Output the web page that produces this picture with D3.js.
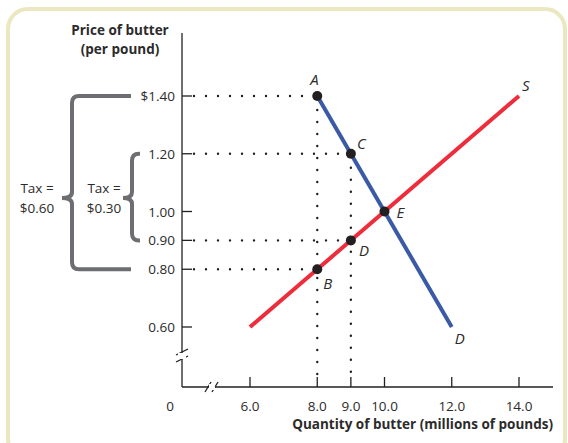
<!DOCTYPE html>
<html><head><meta charset="utf-8">
<script src="https://cdn.jsdelivr.net/npm/d3@7"></script>
<style>body{margin:0;background:#fff}svg{display:block}text{font-family:"Open Sans","Noto Sans",sans-serif}</style>
</head><body><svg id="c" width="568" height="443"></svg>
<script>
const xTicks = [6, 8, 9, 10, 12, 14];
const xTickLabels = ["6.0", "8.0", "9.0", "10.0", "12.0", "14.0"];
const yTicks = [1.40, 1.20, 1.00, 0.90, 0.80, 0.60];
const yTickLabels = ["$1.40", "1.20", "1.00", "0.90", "0.80", "0.60"];
const demandQ = [8, 12];
const demandP = [1.40, 0.60];
const supplyQ = [6, 14];
const supplyP = [0.60, 1.40];
const pointNames = ["A", "C", "E", "D", "B"];
const pointQ = [8, 9, 10, 9, 8];
const pointP = [1.40, 1.20, 1.00, 0.90, 0.80];
const dottedH = ["A", "C", "D", "B"];
const dottedV = ["A", "C"];
const braceTop = [1.40, 1.20];
const braceBottom = [0.80, 0.90];
const braceText = [["Tax =", "$0.60"], ["Tax =", "$0.30"]];

const svg = d3.select("#c");
const ax0 = 182, ay0 = 387, axTop = 33, axRight = 553;
const x = d3.scaleLinear().domain([6, 14]).range([250, 519]);
const y = d3.scaleLinear().domain([0.6, 1.4]).range([327, 96]);
const gray = "#6d6e71", txt = "#2b2b2b", red = "#ee2d3c", blue = "#3a5aa6";
const fs = 13.5;

// frame
svg.append("rect").attr("x", 8).attr("y", 9).attr("width", 557).attr("height", 450)
  .attr("rx", 20).attr("fill", "none").attr("stroke", "#ebe7c0").attr("stroke-width", 4);

// axes
const ax = svg.append("g").attr("stroke", "#231f20").attr("stroke-width", 1.3).attr("fill", "none");
ax.append("line").attr("x1", ax0).attr("x2", ax0).attr("y1", axTop).attr("y2", ay0);
ax.append("line").attr("x1", ax0).attr("x2", axRight).attr("y1", ay0).attr("y2", ay0);
// breaks
svg.append("rect").attr("x", ax0 - 4).attr("y", 353).attr("width", 8).attr("height", 6).attr("fill", "#fff");
[352, 359].forEach(yy => ax.append("line").attr("x1", ax0 - 6).attr("x2", ax0 + 6).attr("y1", yy + 3).attr("y2", yy - 3));
svg.append("rect").attr("x", 209).attr("y", ay0 - 3).attr("width", 6).attr("height", 6).attr("fill", "#fff");
[208, 215].forEach(xx => ax.append("line").attr("x1", xx - 3).attr("x2", xx + 3).attr("y1", ay0 + 5).attr("y2", ay0 - 5));

// ticks
xTicks.forEach((t, i) => {
  ax.append("line").attr("x1", x(t)).attr("x2", x(t)).attr("y1", ay0).attr("y2", ay0 - 10);
  svg.append("text").attr("x", x(t)).attr("y", 411).attr("text-anchor", "middle")
    .attr("font-size", fs).attr("fill", txt).text(xTickLabels[i]);
});
svg.append("text").attr("x", 170).attr("y", 411).attr("text-anchor", "middle").attr("font-size", fs).attr("fill", txt).text("0");
yTicks.forEach((t, i) => {
  ax.append("line").attr("x1", ax0).attr("x2", ax0 + 10).attr("y1", y(t)).attr("y2", y(t));
  svg.append("text").attr("x", 175).attr("y", y(t) + 5).attr("text-anchor", "end")
    .attr("font-size", fs).attr("fill", txt).text(yTickLabels[i]);
});

// titles
svg.append("text").attr("x", 120).attr("y", 35).attr("text-anchor", "middle").attr("font-size", fs)
  .attr("font-weight", "bold").attr("fill", txt).text("Price of butter");
svg.append("text").attr("x", 120).attr("y", 54).attr("text-anchor", "middle").attr("font-size", fs)
  .attr("font-weight", "bold").attr("fill", txt).text("(per pound)");
svg.append("text").attr("x", 553).attr("y", 429).attr("text-anchor", "end").attr("font-size", fs)
  .attr("font-weight", "bold").attr("fill", txt).text("Quantity of butter (millions of pounds)");

// dotted lines
const pts = pointNames.map((n, i) => ({ n, q: pointQ[i], p: pointP[i] }));
const byName = n => pts.find(d => d.n === n);
const dots = svg.append("g").attr("stroke", "#231f20").attr("stroke-width", 2.4)
  .attr("stroke-linecap", "round").attr("stroke-dasharray", "0,12");
dottedH.forEach(n => {
  const d = byName(n);
  dots.append("line").attr("x1", ax0 + 12).attr("x2", x(d.q) - 6).attr("y1", y(d.p)).attr("y2", y(d.p));
});
dottedV.forEach(n => {
  const d = byName(n);
  dots.append("line").attr("x1", x(d.q)).attr("x2", x(d.q)).attr("y1", y(d.p) + 14).attr("y2", ay0 - 8);
});

// curves
const line = d3.line().x(d => x(d[0])).y(d => y(d[1]));
svg.append("path").attr("d", line(supplyQ.map((q, i) => [q, supplyP[i]])))
  .attr("stroke", red).attr("stroke-width", 4).attr("fill", "none");
svg.append("path").attr("d", line(demandQ.map((q, i) => [q, demandP[i]])))
  .attr("stroke", blue).attr("stroke-width", 4).attr("fill", "none");

// points
svg.selectAll("circle.pt").data(pts).join("circle").attr("class", "pt")
  .attr("cx", d => x(d.q)).attr("cy", d => y(d.p)).attr("r", 5).attr("fill", "#231f20");

// point labels
const lblOff = { A: [-7, -11], C: [6, -5], E: [12, 6], D: [8, 16], B: [6, 20] };
pts.forEach(d => {
  const o = lblOff[d.n];
  svg.append("text").attr("x", x(d.q) + o[0]).attr("y", y(d.p) + o[1]).attr("font-size", 15)
    .attr("font-style", "italic").attr("fill", txt).text(d.n);
});
svg.append("text").attr("x", x(supplyQ[1]) + 3).attr("y", y(supplyP[1]) - 5).attr("font-size", 15)
  .attr("font-style", "italic").attr("fill", txt).text("S");
svg.append("text").attr("x", x(demandQ[1]) + 3).attr("y", y(demandP[1]) + 17).attr("font-size", 15)
  .attr("font-style", "italic").attr("fill", txt).text("D");

// braces
const braceX = [[72, 131, 62], [132, 140, 123]];
const braceMid = 198;
braceTop.forEach((top, i) => {
  const [vx, hx, px] = braceX[i];
  const y1 = y(top), y2 = y(braceBottom[i]), ym = braceMid, r = 7;
  const p = d3.path();
  p.moveTo(hx, y1);
  p.lineTo(vx + r, y1);
  p.quadraticCurveTo(vx, y1, vx, y1 + r);
  p.lineTo(vx, ym - 6);
  p.quadraticCurveTo(vx, ym, px, ym);
  p.quadraticCurveTo(vx, ym, vx, ym + 6);
  p.lineTo(vx, y2 - r);
  p.quadraticCurveTo(vx, y2, vx + r, y2);
  p.lineTo(hx, y2);
  svg.append("path").attr("d", p.toString()).attr("fill", "none").attr("stroke", gray).attr("stroke-width", 4);
  const tx = i === 0 ? 37 : 104;
  braceText[i].forEach((t, j) => svg.append("text").attr("x", tx).attr("y", ym - 5 + j * 20)
    .attr("text-anchor", "middle").attr("font-size", fs).attr("fill", txt).text(t));
});
</script></body></html>
